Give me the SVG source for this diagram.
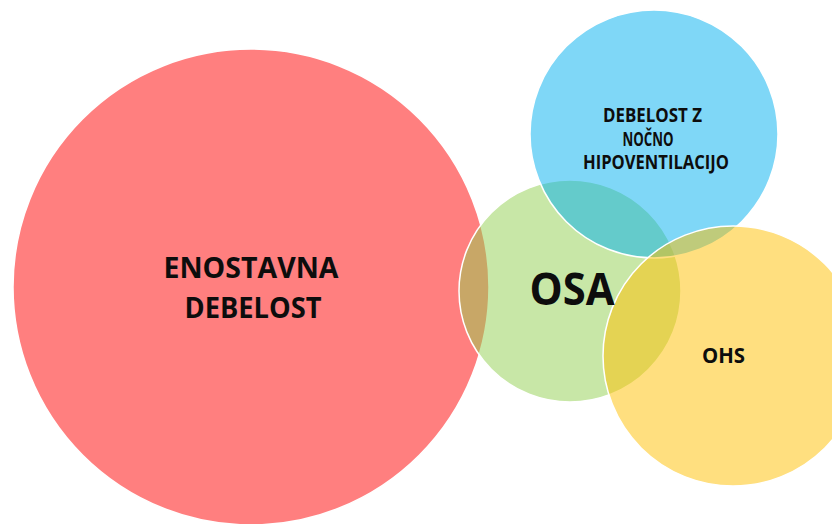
<svg xmlns="http://www.w3.org/2000/svg" width="832" height="524" viewBox="0 0 832 524">
  <style>
    .c { stroke: #ffffff; stroke-width: 1.5; }
    .t { font-family: "Open Sans", Lato, "Liberation Sans", sans-serif; font-weight: bold; fill: #0d0d0d; text-anchor: middle; }
  </style>
  <rect width="832" height="524" fill="#ffffff"/>
  <g id="enostavna-debelost">
    <circle class="c" cx="251" cy="287" r="238" fill="#FF0000" fill-opacity="0.5" stroke="none"/>
    <text class="t" font-size="28" x="251" y="278" textLength="175" lengthAdjust="spacingAndGlyphs">ENOSTAVNA</text>
    <text class="t" font-size="28" x="253" y="318" textLength="137" lengthAdjust="spacingAndGlyphs">DEBELOST</text>
  </g>
  <g id="osa">
    <circle class="c" cx="570" cy="291" r="111" fill="#92D050" fill-opacity="0.5"/>
  </g>
  <g id="debelost-hipoventilacija">
    <circle class="c" cx="654" cy="134" r="124" fill="#00B0F0" fill-opacity="0.5"/>
  </g>
  <g id="ohs">
    <circle class="c" cx="733" cy="356" r="130" fill="#FFC000" fill-opacity="0.5"/>
  </g>
  <g id="labels">
    <text class="t" font-size="44" x="572" y="305" textLength="85" lengthAdjust="spacingAndGlyphs">OSA</text>
    <text class="t" font-size="19.5" x="652.5" y="122" textLength="99" lengthAdjust="spacingAndGlyphs">DEBELOST Z</text>
    <text class="t" font-size="19.5" x="648" y="146" textLength="51" lengthAdjust="spacingAndGlyphs">NOČNO</text>
    <text class="t" font-size="19.5" x="656" y="169" textLength="146" lengthAdjust="spacingAndGlyphs">HIPOVENTILACIJO</text>
    <text class="t" font-size="22" x="723.5" y="363" textLength="43" lengthAdjust="spacingAndGlyphs">OHS</text>
  </g>
  <g id="connectors"/>
</svg>
